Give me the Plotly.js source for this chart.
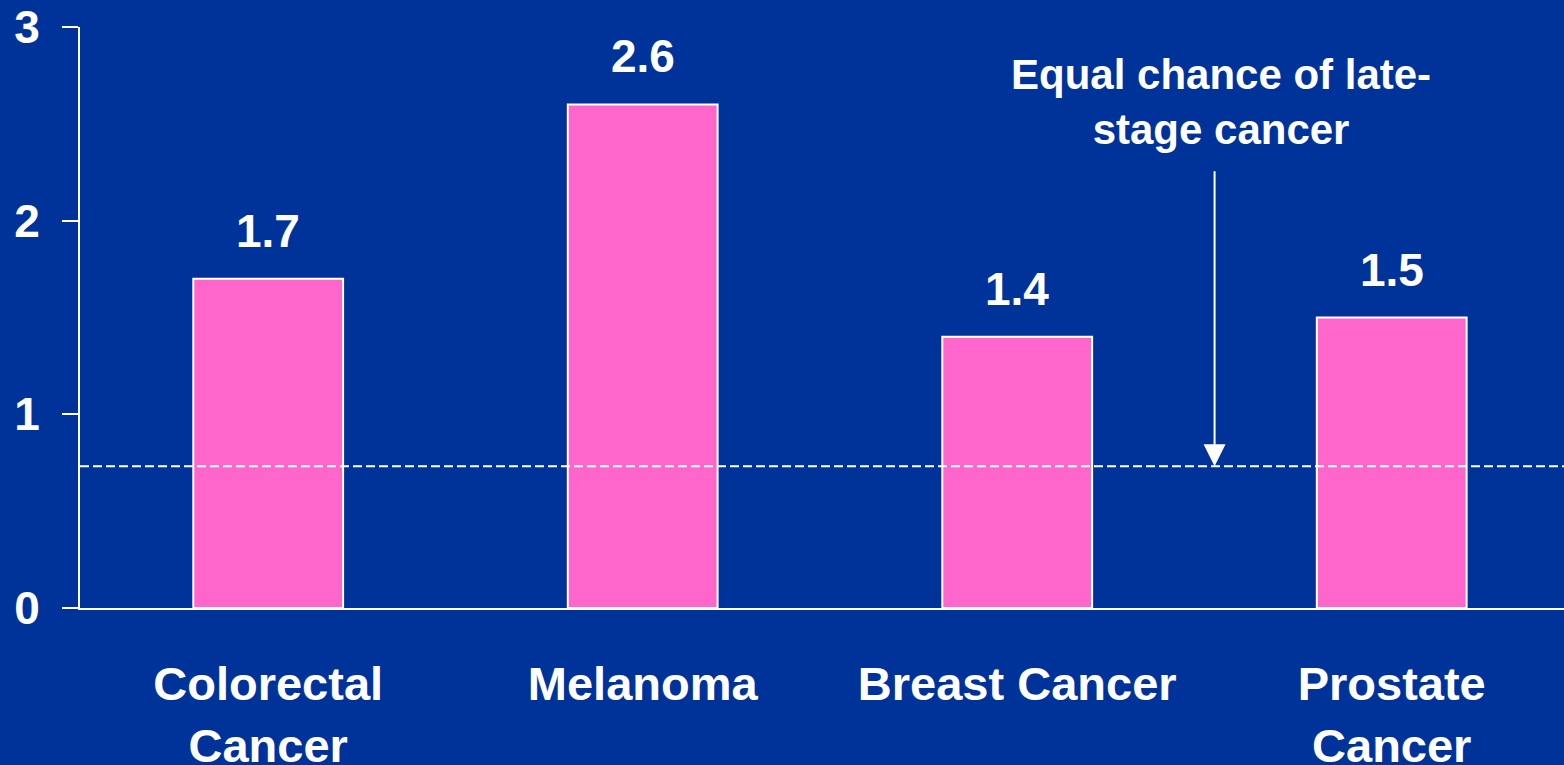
<!DOCTYPE html>
<html>
<head>
<meta charset="utf-8">
<script src="https://cdn.plot.ly/plotly-3.0.1.min.js"></script>
<style>
  html, body { margin: 0; padding: 0; background: #003399; }
  #chart { width: 1564px; height: 765px; }
</style>
</head>
<body>
<div id="chart"></div>
<script>
// Odds of late-stage diagnosis by cancer type
const categories = ['Colorectal', 'Melanoma', 'Breast Cancer', 'Prostate'];
const categoryLabels = ['Colorectal<br>Cancer', 'Melanoma', 'Breast Cancer', 'Prostate<br>Cancer'];
const oddsRatios = [1.7, 2.6, 1.4, 1.5];
const referenceLevel = 0.732;   // "equal chance" reference line
const yTicks = [0, 1, 2, 3];
const referenceNote = 'Equal chance of late-<br>stage cancer';

const BG = '#003399';
const PINK = '#FF66CC';
const FONT = 'Arial, "Liberation Sans", sans-serif';

const xIdx = categories.map((_, i) => i);

const trace = {
  type: 'bar',
  x: xIdx,
  y: oddsRatios,
  width: 0.4,
  marker: { color: PINK, line: { color: '#FFFFFF', width: 2 } },
  hoverinfo: 'skip'
};

// value labels above each bar
const valueNotes = oddsRatios.map((v, i) => ({
  x: i, y: v, xref: 'x', yref: 'y',
  text: v.toFixed(1),
  showarrow: false,
  yanchor: 'bottom',
  yshift: 20,
  font: { family: FONT, size: 46, color: '#FFFFFF', weight: 'bold' }
}));

const annotations = valueNotes.concat([
  {
    x: 2.545, y: 2.885, xref: 'x', yref: 'y',
    text: referenceNote,
    showarrow: false,
    yanchor: 'top',
    align: 'center',
    font: { family: FONT, size: 42, color: '#FFFFFF', weight: 'bold' }
  },
  {
    x: 2.527, y: referenceLevel, xref: 'x', yref: 'y',
    ax: 2.527, ay: 2.263, axref: 'x', ayref: 'y',
    text: '',
    showarrow: true,
    arrowhead: 2,
    arrowsize: 2.2,
    arrowwidth: 2,
    arrowcolor: '#FFFFFF'
  }
]);

const layout = {
  width: 1564,
  height: 765,
  paper_bgcolor: BG,
  plot_bgcolor: BG,
  margin: { l: 80, r: 0, t: 27, b: 157 },
  showlegend: false,
  xaxis: {
    range: [-0.5025, 3.46],
    tickvals: xIdx,
    ticktext: categoryLabels,
    showline: true,
    linecolor: '#FFFFFF',
    linewidth: 2,
    ticks: '',
    showgrid: false,
    zeroline: false,
    ticklabelstandoff: 34,
    tickfont: { family: FONT, size: 47, color: '#FFFFFF', weight: 'bold' },
    fixedrange: true
  },
  yaxis: {
    range: [0, 3],
    tickvals: yTicks,
    showline: true,
    linecolor: '#FFFFFF',
    linewidth: 2,
    ticks: 'outside',
    ticklen: 16,
    tickwidth: 2,
    tickcolor: '#FFFFFF',
    showgrid: false,
    zeroline: false,
    ticklabelstandoff: 13,
    tickfont: { family: FONT, size: 46, color: '#FFFFFF', weight: 'bold' },
    fixedrange: true
  },
  shapes: [
    {
      type: 'line',
      xref: 'paper', yref: 'y',
      x0: 0, x1: 1, y0: referenceLevel, y1: referenceLevel,
      layer: 'above',
      line: { color: '#FFFFFF', width: 2, dash: '9px,4px' }
    }
  ],
  annotations: annotations
};

Plotly.newPlot('chart', [trace], layout, { displayModeBar: false, staticPlot: true });
</script>
</body>
</html>
